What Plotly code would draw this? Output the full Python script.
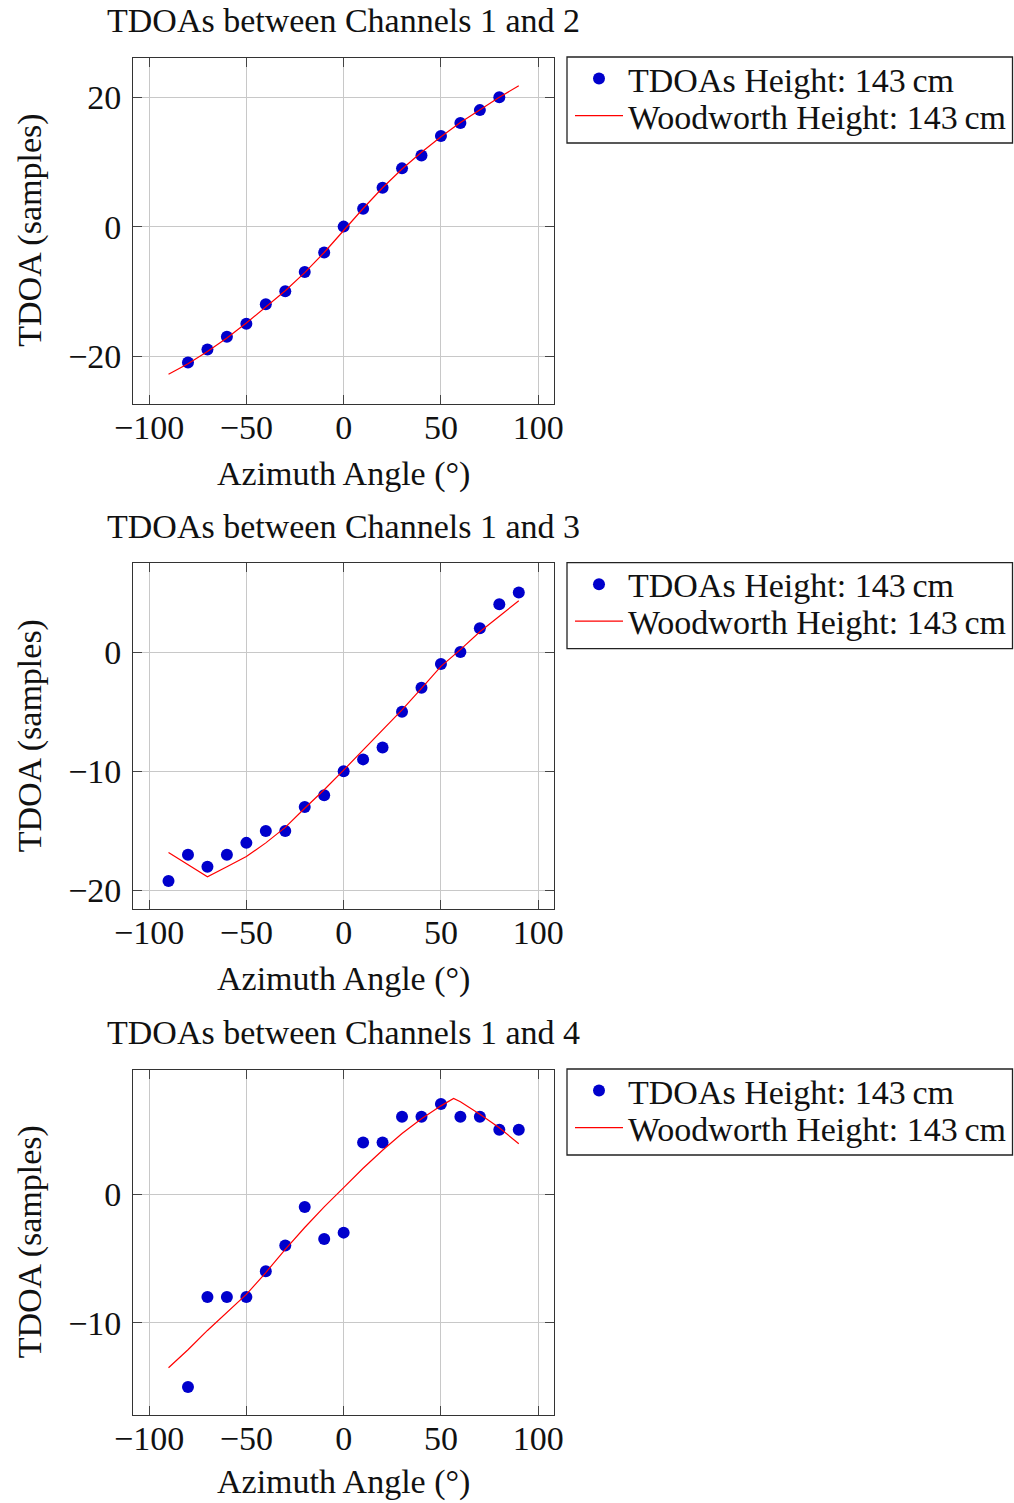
import plotly.graph_objects as go

# ---------------- data ----------------
angles = [-80, -70, -60, -50, -40, -30, -20, -10, 0, 10, 20, 30, 40, 50, 60, 70, 80]
tdoa_12 = [-21, -19, -17, -15, -12, -10, -7, -4, 0, 2.75, 6, 9, 11, 14, 16, 18, 20]
wood_x_12 = [-90, -80, -70, -60, -50, -40, -30, -20, -10, 0, 10, 20, 30, 40, 50, 60, 70, 80, 90]
wood_12 = [-22.8, -21.2, -19.3, -17.2, -14.9, -12.4, -9.9, -7.1, -4.0, -0.6, 2.8, 6.0, 8.9, 11.5, 13.9, 16.1, 18.1, 20.0, 21.75]

angles_13 = [-90, -80, -70, -60, -50, -40, -30, -20, -10, 0, 10, 20, 30, 40, 50, 60, 70, 80, 90]
tdoa_13 = [-19.2, -17, -18, -17, -16, -15, -15, -13, -12, -10, -9, -8, -5, -3, -1, 0, 2, 4, 5]
wood_x_13 = [-90, -70, -60, -50, -40, -30, -20, -10, 0, 10, 20, 30, 40, 50, 60, 70, 80, 90]
wood_13 = [-16.8, -18.85, -18.0, -17.15, -16.0, -14.7, -13.1, -11.55, -9.9, -8.2, -6.5, -4.85, -3.05, -1.2, 0.2, 1.7, 3.0, 4.3]

angles_14 = [-80, -70, -60, -50, -40, -30, -20, -10, 0, 10, 20, 30, 40, 50, 60, 70, 80, 90]
tdoa_14 = [-15, -8, -8, -8, -6, -4, -1, -3.5, -3, 4, 4, 6, 6, 7, 6, 6, 5, 5]
wood_x_14 = [-90, -80, -70, -60, -50, -40, -30, -20, -10, 0, 10, 20, 30, 40, 50, 56.5, 60, 70, 80, 90]
wood_14 = [-13.5, -12.1, -10.6, -9.2, -7.8, -6.1, -4.3, -2.6, -1.0, 0.5, 2.0, 3.4, 4.7, 5.85, 6.85, 7.42, 7.17, 6.2, 5.15, 3.9]

titles = ["TDOAs between Channels 1 and 2", "TDOAs between Channels 1 and 3", "TDOAs between Channels 1 and 4"]
x_ticks = [-100, -50, 0, 50, 100]
y_ticks = [[-20, 0, 20], [-20, -10, 0], [-10, 0]]
y_ranges = [[-27.36, 26.1], [-21.57, 7.44], [-17.17, 9.66]]
x_range = [-108.1, 108.1]
label_dots = "TDOAs Height: 143\u2009cm"
label_line = "Woodworth Height: 143\u2009cm"

# ---------------- layout geometry (target screenshot pixels) ----------------
W, H = 1014, 1503
box_left, box_right = 133.3, 554.0
box_tops = [57.7, 563.3, 1069.7]
box_bottoms = [403.7, 909.3, 1415.0]
leg_left, leg_right = 567, 1012.5
leg_height = 86

FONT = "Liberation Serif"
FS = 34
LFS = 34
TXT = "#111111"

def px(x):
    return x / W

def py(y):
    return (H - y) / H

fig = go.Figure()

series = [
    (angles, tdoa_12, wood_x_12, wood_12),
    (angles_13, tdoa_13, wood_x_13, wood_13),
    (angles_14, tdoa_14, wood_x_14, wood_14),
]

annotations = []
shapes = []
layout_axes = {}
for i, (ax_, ay_, wx_, wy_) in enumerate(series):
    n = "" if i == 0 else str(i + 1)
    leg_a = f"legend{2 * i + 1}" if i > 0 else "legend"
    leg_b = f"legend{2 * i + 2}"
    fig.add_trace(go.Scatter(
        x=ax_, y=ay_, mode="markers", name=label_dots,
        marker=dict(color="#0000cc", size=12, line=dict(width=0)),
        xaxis="x" + n, yaxis="y" + n, legend=leg_a,
    ))
    fig.add_trace(go.Scatter(
        x=wx_, y=wy_, mode="lines", name=label_line,
        line=dict(color="#ff0000", width=1.2),
        xaxis="x" + n, yaxis="y" + n, legend=leg_b,
    ))
    common = dict(
        showgrid=True, gridcolor="#c8c8c8", gridwidth=1,
        showline=True, linecolor="#333333", linewidth=1.3, mirror="allticks",
        ticks="inside", ticklen=9, tickcolor="#444444", tickwidth=1.2,
        zeroline=False, automargin=False,
        tickfont=dict(family=FONT, size=FS, color=TXT),
    )
    layout_axes["xaxis" + n] = dict(
        common, domain=[px(box_left), px(box_right)], range=x_range,
        tickvals=x_ticks, anchor="y" + n, ticklabelstandoff=-7,
    )
    layout_axes["yaxis" + n] = dict(
        common, domain=[py(box_bottoms[i]), py(box_tops[i])], range=y_ranges[i],
        tickvals=y_ticks[i], anchor="x" + n, ticklabelstandoff=4,
    )
    top = box_tops[i] - 0.7
    for leg, row_y in ((leg_a, top + 22), (leg_b, top + 59)):
        layout_axes[leg] = dict(
            x=px(leg_left + 3), y=py(row_y), xanchor="left", yanchor="middle",
            borderwidth=0, bgcolor="rgba(0,0,0,0)",
            font=dict(family=FONT, size=LFS, color=TXT),
            tracegroupgap=0, itemwidth=48,
        )
    shapes.append(dict(
        type="rect", xref="paper", yref="paper",
        x0=px(leg_left), x1=px(leg_right), y0=py(top + leg_height), y1=py(top),
        line=dict(color="#222222", width=1.3), fillcolor="rgba(0,0,0,0)", layer="below",
    ))
    cx = px((box_left + box_right) / 2)
    annotations.append(dict(
        text=titles[i], x=cx, y=py(box_tops[i] - 37), xref="paper", yref="paper",
        xanchor="center", yanchor="middle", showarrow=False,
        font=dict(family=FONT, size=FS, color=TXT),
    ))
    xl_y = box_bottoms[i] + 70 if i < 2 else box_bottoms[i] + 67
    annotations.append(dict(
        text="Azimuth Angle (\u00b0)", x=cx, y=py(xl_y), xref="paper", yref="paper",
        xanchor="center", yanchor="middle", showarrow=False,
        font=dict(family=FONT, size=FS, color=TXT),
    ))
    annotations.append(dict(
        text="TDOA (samples)", x=px(30), y=py((box_tops[i] + box_bottoms[i]) / 2),
        xref="paper", yref="paper", textangle=-90,
        xanchor="center", yanchor="middle", showarrow=False,
        font=dict(family=FONT, size=FS, color=TXT),
    ))

fig.update_layout(
    width=W, height=H,
    margin=dict(l=0, r=0, t=0, b=0, autoexpand=False),
    paper_bgcolor="white", plot_bgcolor="white",
    annotations=annotations, shapes=shapes,
    showlegend=True,
    **layout_axes,
)

fig.write_html("out.html", config={"displayModeBar": False},
               post_script="document.body.style.margin='0px';")
